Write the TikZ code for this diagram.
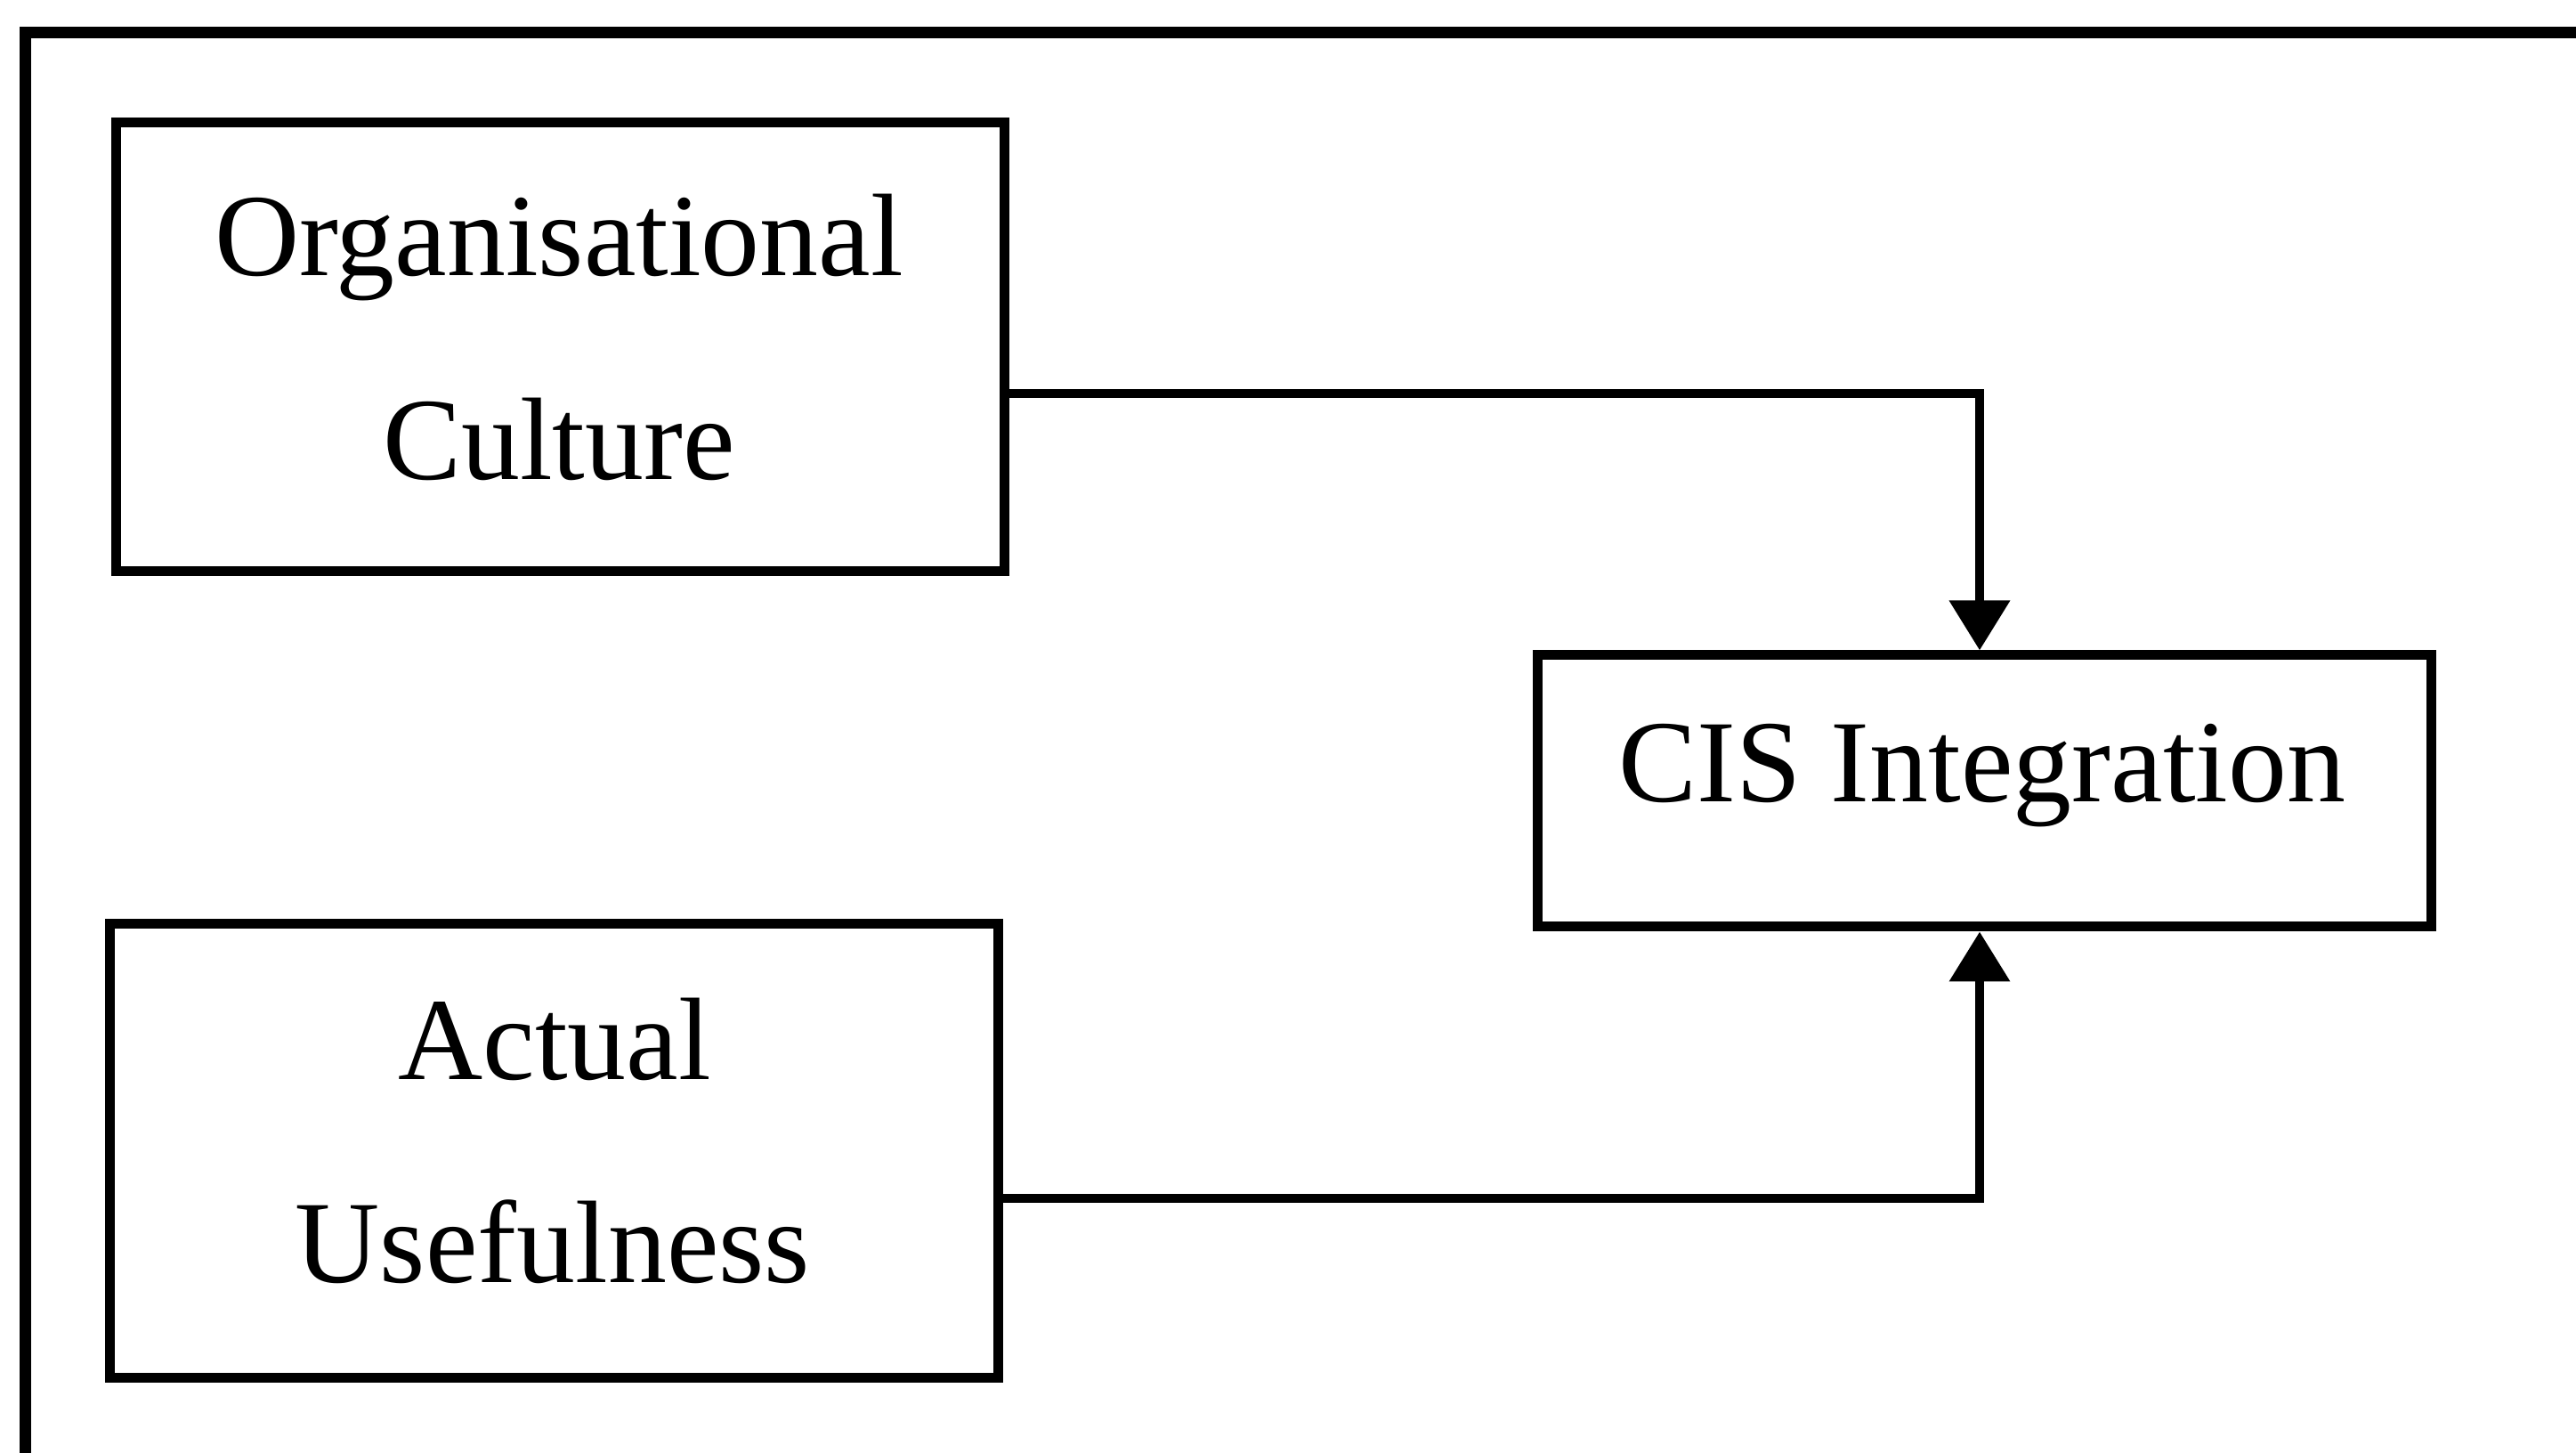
\documentclass[tikz,border=0pt]{standalone}
\usepackage{fontspec}
\setmainfont{Liberation Serif}
\usetikzlibrary{arrows.meta}
\begin{document}
\begin{tikzpicture}[
  boxnode/.style={draw, line width=1.1mm, inner sep=0pt, minimum width=9.98cm},
  label/.style={font=\fontsize{37.5}{45}\selectfont, anchor=base, inner sep=0pt},
  link/.style={line width=1.05mm, -{Triangle[length=5.6mm, width=6.6mm]}}
]
\useasboundingbox (0,0) rectangle (28.94,16.32);
\clip (0,0) rectangle (28.94,16.32);

% outer frame (only its left and top edges fall inside the page)
\draw[line width=1.3mm] (0.285,-1) -- (0.285,15.955) -- (30,15.955);

% boxes
\node[boxnode, minimum height=5.04cm] (oc) at (6.29,12.42) {};
\node[boxnode, minimum height=5.10cm] (au) at (6.22,3.39) {};
\node[boxnode, minimum width=10.04cm, minimum height=3.05cm] (cis) at (22.29,7.435) {};

% box texts
\node[label] (oc1) at (6.28,13.22) {Organisational};
\node[label] (oc2) at (6.28,10.93) {Culture};
\node[label] (au1) at (6.23,4.19) {Actual};
\node[label] (au2) at (6.21,1.91) {Usefulness};
\node[label] (cis1) at (22.27,7.31) {CIS Integration};

% connectors
\coordinate (j1) at (22.24,11.90);
\coordinate (j2) at (22.24,2.86);
\draw[link] (j1 -| oc.east) -- (j1) -- (j1 |- cis.north);
\draw[link] (j2 -| au.east) -- (j2) -- (j2 |- cis.south);
\end{tikzpicture}
\end{document}
